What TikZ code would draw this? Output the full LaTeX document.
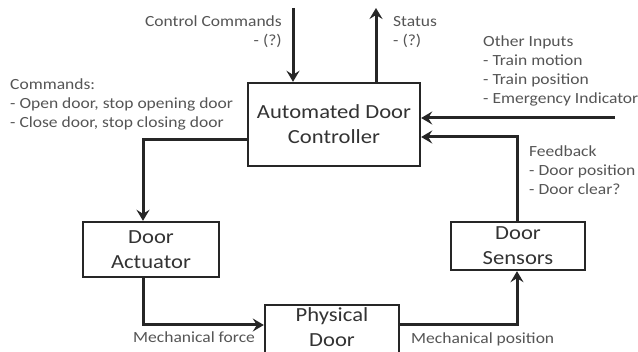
\documentclass[tikz,border=0pt]{standalone}
\usepackage{fontspec}
\setmainfont[FakeStretch=1.13]{Carlito}
\usetikzlibrary{arrows.meta,calc}
\definecolor{txt}{HTML}{333333}
\definecolor{lbl}{HTML}{555555}
\tikzset{
  blk/.style={draw=black!85, line width=2.4pt, rectangle, inner sep=0pt, align=center,
    text=txt, font=\fontsize{20}{25}\selectfont},
  lab/.style={inner sep=0pt, text=lbl, font=\fontsize{15.5}{19}\selectfont},
  conn/.style={draw=black!85, line width=3pt, -{Stealth[length=11pt,width=13pt,inset=4pt]}},
}
\begin{document}
\begin{tikzpicture}[x=1pt,y=-1pt]
\useasboundingbox[fill=white] (0,0) rectangle (638,352);
\node[blk, minimum width=172pt, minimum height=83pt] (ctrl) at (334,124.5) {Automated Door\\Controller};
\node[blk, minimum width=136pt, minimum height=55pt] (act) at (151,249.5) {Door\\Actuator};
\node[blk, minimum width=134pt, minimum height=48pt] (sens) at (518,246) {Door\\Sensors};
\node[blk, minimum width=134pt, minimum height=49pt, text depth=5pt] (phys) at (332,329.5) {Physical\\Door};

\coordinate (cc) at (293,8);
\coordinate (st) at (376,8);
\coordinate (oi) at (615,118);
\draw[conn] (cc) -- (cc |- ctrl.north);
\draw[conn] (st |- ctrl.north) -- (st);
\draw[conn] (oi) -- (oi -| ctrl.east);
\draw[conn] ($(sens.north)+(-1,0)$) |- ($(ctrl.east)+(0,12.5)$);
\draw[conn] ($(ctrl.west)+(0,15.5)$) -| ($(act.north)+(-8,0)$);
\draw[conn] ($(act.south)+(-8,0)$) |- ($(phys.west)+(0,-4.5)$);
\draw[conn] ($(phys.east)+(0,-4.5)$) -| ($(sens.south)+(-1,0)$);

\node[lab, anchor=base east, align=right] (l1) at (282,46) {Control Commands\\- (?)};
\node[lab, anchor=base west, align=left] (l2) at (393,46) {Status\\- (?)};
\node[lab, anchor=base west, align=left] (l3) at (483,104) {Other Inputs\\- Train motion\\- Train position\\- Emergency Indicator};
\node[lab, anchor=base west, align=left] (l4) at (10,128) {Commands:\\- Open door, stop opening door\\- Close door, stop closing door};
\node[lab, anchor=base west, align=left] (l5) at (529,195) {Feedback\\- Door position\\- Door clear?};
\node[lab, anchor=base west] (l6) at (133,343) {Mechanical force};
\node[lab, anchor=base west] (l7) at (411,344) {Mechanical position};
\end{tikzpicture}
\end{document}
